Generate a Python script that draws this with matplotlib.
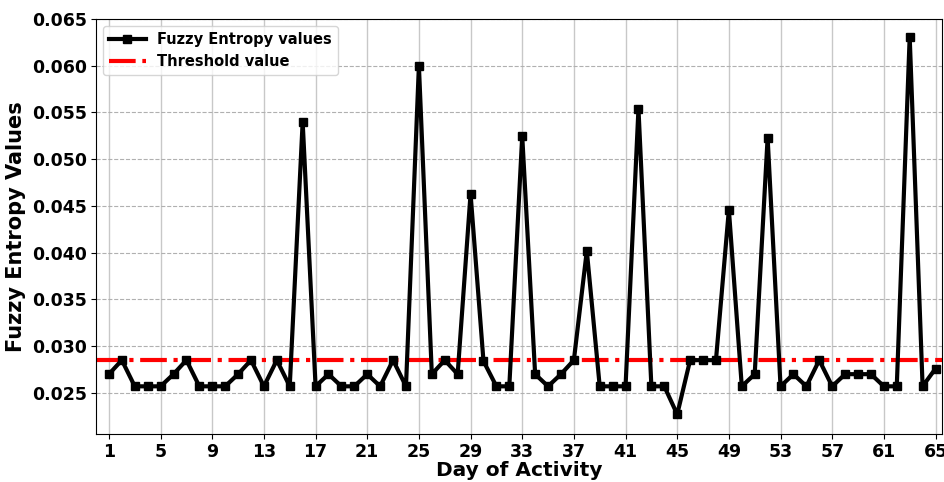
import numpy as np
import matplotlib
matplotlib.use('Agg')
import matplotlib.pyplot as plt

days = np.arange(1, 66)
fuzzy_entropy = [0.0270, 0.0285, 0.0257, 0.0257, 0.0257, 0.0270, 0.0285, 0.0257, 0.0257, 0.0257,
                 0.0270, 0.0285, 0.0257, 0.0285, 0.0257, 0.0540, 0.0257, 0.0270, 0.0257, 0.0257,
                 0.0270, 0.0257, 0.0285, 0.0257, 0.0600, 0.0270, 0.0285, 0.0270, 0.0463, 0.0284,
                 0.0257, 0.0257, 0.0525, 0.0270, 0.0257, 0.0270, 0.0285, 0.0402, 0.0257, 0.0257,
                 0.0257, 0.0554, 0.0257, 0.0257, 0.0227, 0.0285, 0.0285, 0.0285, 0.0446, 0.0257,
                 0.0270, 0.0523, 0.0257, 0.0270, 0.0257, 0.0285, 0.0257, 0.0270, 0.0270, 0.0270,
                 0.0257, 0.0257, 0.0631, 0.0257, 0.0276]
threshold = 0.0285
xticks = list(range(1, 66, 4))

fig = plt.figure(figsize=(9.45, 4.82), dpi=100)
ax = fig.add_axes([0.1016, 0.0996, 0.8952, 0.861])
ax.plot(days, fuzzy_entropy, color='black', linewidth=3, marker='s', markersize=6,
        label='Fuzzy Entropy values', zorder=3)
ax.axhline(threshold, color='red', linestyle='-.', linewidth=3, label='Threshold value', zorder=2)
ax.set_xlim(0, 65.5)
ax.set_ylim(0.0206, 0.065)
ax.set_xticks(xticks)
ax.set_yticks(np.arange(0.025, 0.0651, 0.005))
ax.xaxis.grid(True, color='#c8c8c8', linestyle='-', linewidth=1)
ax.yaxis.grid(True, color='#b0b0b0', linestyle='--', linewidth=0.8)
ax.set_axisbelow(True)
ax.tick_params(axis='both', labelsize=12.5, pad=3)
for lab in ax.get_xticklabels() + ax.get_yticklabels():
    lab.set_fontweight('bold')
ax.set_xlabel('Day of Activity', fontsize=14.5, fontweight='bold', labelpad=0)
ax.set_ylabel('Fuzzy Entropy Values', fontsize=15, fontweight='bold')
ax.legend(loc='upper left', prop={'weight': 'bold', 'size': 10.5}, handlelength=2.5)
fig.savefig('out.png', dpi=100)
